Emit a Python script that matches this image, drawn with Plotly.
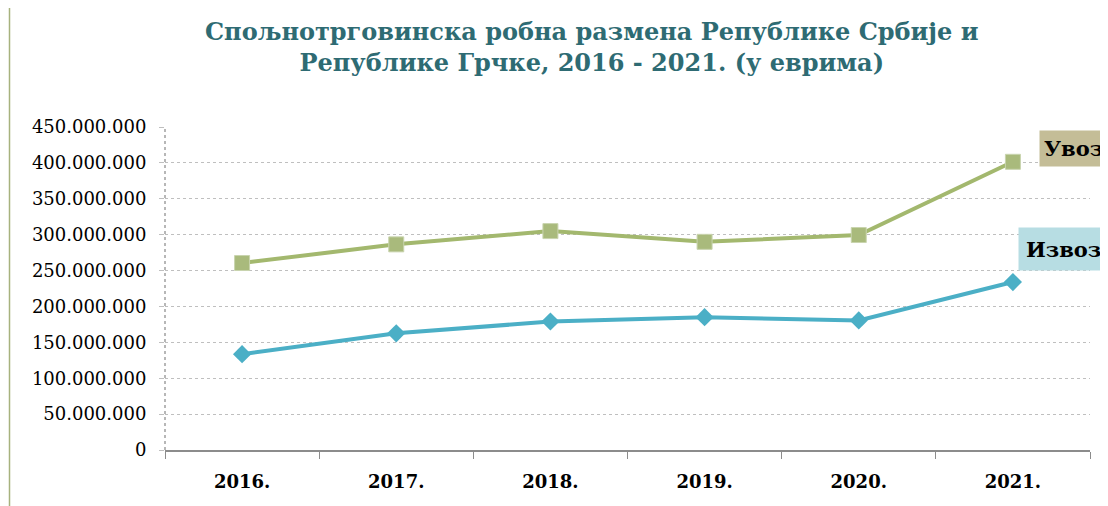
import plotly.graph_objects as go

years = ["2016.", "2017.", "2018.", "2019.", "2020.", "2021."]
uvoz = [260500000, 286500000, 305000000, 290000000, 299500000, 401500000]
izvoz = [133500000, 162500000, 179000000, 185000000, 180500000, 234000000]
y_ticks = [0, 50000000, 100000000, 150000000, 200000000, 250000000,
           300000000, 350000000, 400000000, 450000000]

title_text = "Спољнотрговинска робна размена Републике Србије и<br>Републике Грчке, 2016 - 2021. (у еврима)"
FONT = "DejaVu Serif"

# page body has an 8px margin, so the figure is 8px smaller than the window
W, H = 1100, 498
L, R, T, B = 157, 18, 119, 56
PW, PH = W - L - R, H - T - B


def px(xp):
    return (xp - 8 - L) / PW


def py(yp):
    return (H - B - (yp - 8)) / PH


fig = go.Figure()
fig.add_trace(go.Scatter(
    x=years, y=uvoz, name="Увоз", mode="lines+markers",
    line=dict(color="#A3B86E", width=4),
    marker=dict(symbol="square", size=15, color="#A9BA7C", line=dict(color="#C9D4AE", width=1)),
))
fig.add_trace(go.Scatter(
    x=years, y=izvoz, name="Извоз", mode="lines+markers",
    line=dict(color="#4BAFC6", width=4),
    marker=dict(symbol="diamond", size=14, color="#4BAFC6"),
))

fig.update_layout(
    width=W, height=H,
    margin=dict(l=L, r=R, t=T, b=B),
    paper_bgcolor="white", plot_bgcolor="white",
    showlegend=False,
    separators=",.",
    font=dict(family=FONT, color="#000000"),
)
fig.update_xaxes(
    type="category", tickson="boundaries", ticks="outside", ticklen=7,
    tickcolor="#8C8C8C", showline=True, linecolor="#8C8C8C", linewidth=2,
    showgrid=False, tickfont=dict(family=FONT, size=18, color="#000"),
    tickprefix="<b>", ticksuffix="</b>", range=[-0.5, 5.5],
    ticklabelstandoff=14,
)
fig.update_yaxes(
    range=[0, 450000000], tickvals=y_ticks, tickformat=",d",
    showgrid=True, gridcolor="#BFBFBF", griddash="dot", gridwidth=1,
    zeroline=False, showline=False, ticks="outside", ticklen=5, tickcolor="#BFBFBF",
    tickfont=dict(family=FONT, size=18, color="#000"),
    ticklabelstandoff=9,
)
# dotted y-axis line
fig.add_shape(type="line", xref="paper", yref="paper", x0=0, x1=0, y0=0, y1=1,
              line=dict(color="#A0A0A0", width=1.5, dash="dot"))
# left border line of the frame
fig.add_shape(type="line", xref="paper", yref="paper", x0=px(9.5), x1=px(9.5),
              y0=py(506), y1=py(0), line=dict(color="#A7B27E", width=1.5))

# title
fig.add_annotation(text="<b>" + title_text + "</b>", xref="paper", yref="paper",
                   x=px(591), y=py(47), xanchor="center", yanchor="middle",
                   showarrow=False, align="center",
                   font=dict(family=FONT, size=24, color="#2E6B73"))

fig.add_annotation(text="<b>Увоз</b>", xref="paper", yref="paper",
                   x=px(1039), y=py(148), xanchor="left", yanchor="middle",
                   showarrow=False, bgcolor="#C4BD97", borderpad=4,
                   width=100, height=27, align="left", xshift=0,
                   font=dict(family=FONT, size=21, color="#000"))
fig.add_annotation(text="<b>Извоз</b>", xref="paper", yref="paper",
                   x=px(1018), y=py(249), xanchor="left", yanchor="middle",
                   showarrow=False, bgcolor="#B7DDE3", borderpad=7,
                   width=110, height=28, align="left",
                   font=dict(family=FONT, size=21, color="#000"))

fig.write_html("out.html")
